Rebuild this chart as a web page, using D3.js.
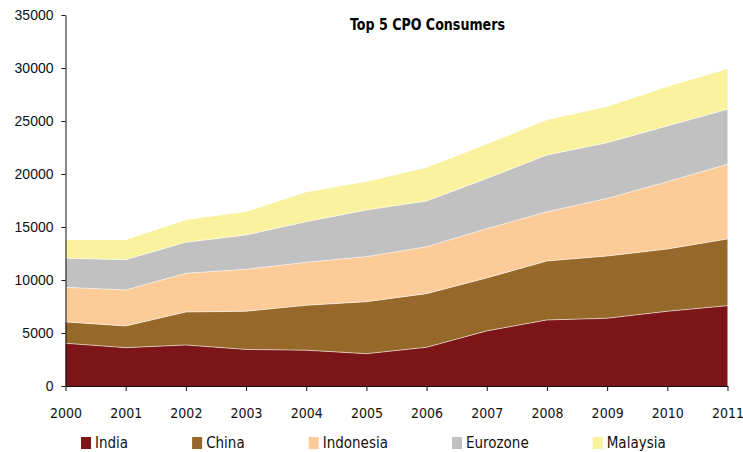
<!DOCTYPE html>
<html>
<head>
<meta charset="utf-8">
<script src="https://cdn.jsdelivr.net/npm/d3@7"></script>
<style>
  html, body { margin: 0; padding: 0; background: #fff; }
  svg { display: block; }
</style>
</head>
<body>
<svg id="chart" width="743" height="452"></svg>
<script>
// Annual crude palm oil consumption (thousand tonnes), stacked by consumer
const years     = [2000, 2001, 2002, 2003, 2004, 2005, 2006, 2007, 2008, 2009, 2010, 2011];
const india     = [4030, 3620, 3870, 3450, 3380, 3050, 3650, 5200, 6230, 6390, 7050, 7580];
const china     = [2010, 2040, 3110, 3600, 4230, 4900, 5060, 5000, 5560, 5870, 5870, 6290];
const indonesia = [3270, 3400, 3650, 3960, 4060, 4250, 4430, 4640, 4650, 5440, 6350, 7050];
const eurozone  = [2740, 2860, 2930, 3240, 3830, 4400, 4310, 4740, 5350, 5250, 5270, 5180];
const malaysia  = [1720, 1850, 2100, 2190, 2770, 2670, 3150, 3230, 3300, 3400, 3700, 3800];

const seriesNames  = ["India", "China", "Indonesia", "Eurozone", "Malaysia"];
const seriesValues = [india, china, indonesia, eurozone, malaysia];
const seriesColors = ["#7c1518", "#966829", "#fdcb98", "#c1c1c1", "#faf29e"];
const yTicks = [0, 5000, 10000, 15000, 20000, 25000, 30000, 35000];
const title = "Top 5 CPO Consumers";

const rows = years.map((yr, i) => {
  const r = { year: yr };
  seriesNames.forEach((n, k) => { r[n] = seriesValues[k][i]; });
  return r;
});

const svg = d3.select("#chart");
const x = d3.scaleLinear().domain([years[0], years[years.length - 1]]).range([65.5, 727.5]);
const y = d3.scaleLinear().domain([0, 35000]).range([386, 15]);

const stacked = d3.stack().keys(seriesNames)(rows);

const area = d3.area()
  .x(d => x(d.data.year))
  .y0(d => y(d[0]))
  .y1(d => y(d[1]));

const topLine = d3.line()
  .x(d => x(d.data.year))
  .y(d => y(d[1]));

const layers = svg.append("g");
layers.selectAll("path.layer")
  .data(stacked)
  .join("path")
  .attr("class", "layer")
  .attr("d", area)
  .attr("fill", (d, i) => seriesColors[i]);

// thin light seams between neighbouring layers
layers.selectAll("path.seam")
  .data(stacked.slice(0, -1))
  .join("path")
  .attr("class", "seam")
  .attr("d", topLine)
  .attr("fill", "none")
  .attr("stroke", "#fff")
  .attr("stroke-width", 0.8)
  .attr("stroke-opacity", 0.7);

// y axis
const yAxis = svg.append("g")
  .attr("transform", `translate(${x.range()[0]},0)`)
  .call(d3.axisLeft(y).tickValues(yTicks).tickSize(4).tickSizeOuter(0).tickPadding(8).tickFormat(d3.format("d")));
yAxis.selectAll("text")
  .attr("font-family", "'Liberation Sans', Arial, sans-serif")
  .attr("font-size", 14)
  .attr("fill", "#111");
yAxis.selectAll("line, path").attr("stroke", "#111");

// x axis
const xAxis = svg.append("g")
  .attr("transform", `translate(0,${y(0)})`)
  .call(d3.axisBottom(x).tickValues(years).tickSize(5).tickSizeOuter(0).tickPadding(17).tickFormat(d3.format("d")));
xAxis.selectAll("text")
  .attr("font-family", "'DejaVu Sans Condensed', 'DejaVu Sans', sans-serif")
  .attr("font-stretch", "condensed")
  .attr("font-size", 14)
  .attr("fill", "#111");
xAxis.selectAll("line, path").attr("stroke", "#111");

// title
svg.append("text")
  .attr("x", 427.5)
  .attr("y", 30)
  .attr("text-anchor", "middle")
  .attr("font-family", "'DejaVu Sans Condensed', 'DejaVu Sans', sans-serif")
  .attr("font-stretch", "condensed")
  .attr("font-weight", "bold")
  .attr("font-size", 15)
  .attr("textLength", 155)
  .attr("lengthAdjust", "spacingAndGlyphs")
  .attr("fill", "#000")
  .text(title);

// legend: swatch + label, laid out left to right
const legend = svg.append("g").attr("transform", "translate(81,437)");
let cursor = 0;
seriesNames.forEach((name, i) => {
  const g = legend.append("g").attr("transform", `translate(${cursor},0)`);
  g.append("rect").attr("width", 10).attr("height", 12).attr("fill", seriesColors[i]);
  const t = g.append("text")
    .attr("x", 14)
    .attr("y", 11)
    .attr("font-family", "'DejaVu Sans Condensed', 'DejaVu Sans', sans-serif")
    .attr("font-stretch", "condensed")
    .attr("font-size", 15)
    .attr("fill", "#111")
    .text(name);
  cursor += 14 + t.node().getComputedTextLength() + 64;
});
</script>
</body>
</html>
